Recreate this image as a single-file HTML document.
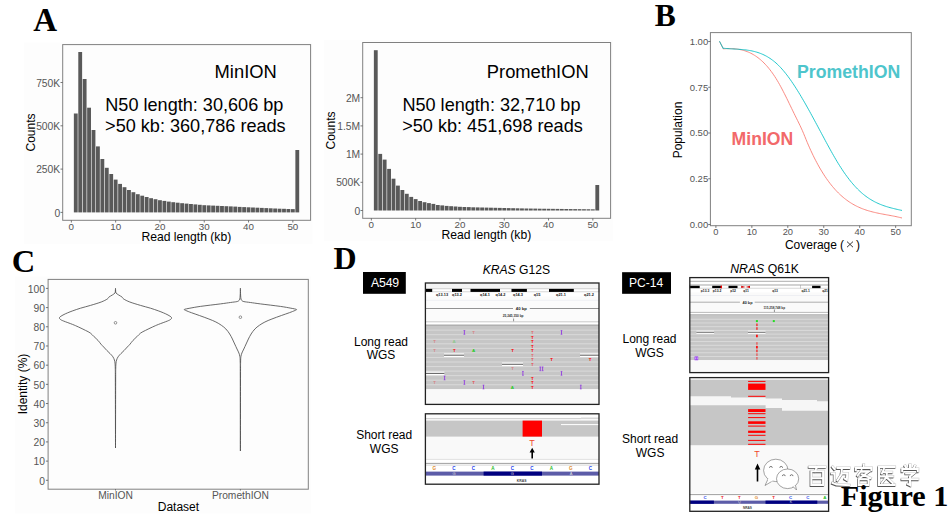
<!DOCTYPE html>
<html><head><meta charset="utf-8"><style>
html,body{margin:0;padding:0;background:#fff;width:951px;height:517px;overflow:hidden;}
svg{display:block;}
</style></head><body>
<svg width="951" height="517" viewBox="0 0 951 517">
<rect width="951" height="517" fill="#fff"/>
<rect x="24.00" y="42.40" width="288.40" height="201.50" fill="#fdfdfd" />
<rect x="324.00" y="40.00" width="288.70" height="201.00" fill="#fdfdfd" />
<rect x="14.70" y="276.60" width="296.30" height="237.00" fill="#fdfdfd" />
<text x="33.30" y="30.90" font-family='"Liberation Serif", serif' font-size="33" fill="#000" text-anchor="start" font-weight="bold" >A</text>
<text x="654.80" y="26.00" font-family='"Liberation Serif", serif' font-size="31.5" fill="#000" text-anchor="start" font-weight="bold" >B</text>
<text x="11.70" y="272.30" font-family='"Liberation Serif", serif' font-size="32.5" fill="#000" text-anchor="start" font-weight="bold" >C</text>
<text x="333.50" y="269.00" font-family='"Liberation Serif", serif' font-size="32" fill="#000" text-anchor="start" font-weight="bold" >D</text>
<rect x="73.86" y="113.50" width="3.83" height="98.90" fill="#595959" />
<rect x="78.29" y="52.00" width="3.83" height="160.40" fill="#595959" />
<rect x="82.72" y="79.00" width="3.83" height="133.40" fill="#595959" />
<rect x="87.15" y="107.70" width="3.83" height="104.70" fill="#595959" />
<rect x="91.58" y="130.00" width="3.83" height="82.40" fill="#595959" />
<rect x="96.01" y="146.40" width="3.83" height="66.00" fill="#595959" />
<rect x="100.44" y="159.00" width="3.83" height="53.40" fill="#595959" />
<rect x="104.87" y="167.80" width="3.83" height="44.60" fill="#595959" />
<rect x="109.30" y="174.00" width="3.83" height="38.40" fill="#595959" />
<rect x="113.73" y="179.60" width="3.83" height="32.80" fill="#595959" />
<rect x="118.16" y="183.90" width="3.83" height="28.50" fill="#595959" />
<rect x="122.59" y="187.20" width="3.83" height="25.20" fill="#595959" />
<rect x="127.02" y="190.00" width="3.83" height="22.40" fill="#595959" />
<rect x="131.46" y="192.20" width="3.83" height="20.20" fill="#595959" />
<rect x="135.88" y="194.20" width="3.83" height="18.20" fill="#595959" />
<rect x="140.31" y="195.70" width="3.83" height="16.70" fill="#595959" />
<rect x="144.75" y="197.00" width="3.83" height="15.40" fill="#595959" />
<rect x="149.17" y="198.20" width="3.83" height="14.20" fill="#595959" />
<rect x="153.60" y="199.20" width="3.83" height="13.20" fill="#595959" />
<rect x="158.03" y="200.20" width="3.83" height="12.20" fill="#595959" />
<rect x="162.47" y="200.90" width="3.83" height="11.50" fill="#595959" />
<rect x="166.90" y="201.60" width="3.83" height="10.80" fill="#595959" />
<rect x="171.32" y="202.20" width="3.83" height="10.20" fill="#595959" />
<rect x="175.75" y="202.70" width="3.83" height="9.70" fill="#595959" />
<rect x="180.19" y="203.20" width="3.83" height="9.20" fill="#595959" />
<rect x="184.61" y="203.60" width="3.83" height="8.80" fill="#595959" />
<rect x="189.04" y="204.00" width="3.83" height="8.40" fill="#595959" />
<rect x="193.47" y="204.40" width="3.83" height="8.00" fill="#595959" />
<rect x="197.91" y="204.80" width="3.83" height="7.60" fill="#595959" />
<rect x="202.33" y="205.20" width="3.83" height="7.20" fill="#595959" />
<rect x="206.76" y="205.40" width="3.83" height="7.00" fill="#595959" />
<rect x="211.19" y="205.60" width="3.83" height="6.80" fill="#595959" />
<rect x="215.62" y="205.80" width="3.83" height="6.60" fill="#595959" />
<rect x="220.06" y="206.00" width="3.83" height="6.40" fill="#595959" />
<rect x="224.48" y="206.20" width="3.83" height="6.20" fill="#595959" />
<rect x="228.91" y="206.40" width="3.83" height="6.00" fill="#595959" />
<rect x="233.34" y="206.60" width="3.83" height="5.80" fill="#595959" />
<rect x="237.77" y="206.90" width="3.83" height="5.50" fill="#595959" />
<rect x="242.20" y="207.10" width="3.83" height="5.30" fill="#595959" />
<rect x="246.63" y="207.30" width="3.83" height="5.10" fill="#595959" />
<rect x="251.06" y="207.50" width="3.83" height="4.90" fill="#595959" />
<rect x="255.49" y="207.70" width="3.83" height="4.70" fill="#595959" />
<rect x="259.93" y="207.90" width="3.83" height="4.50" fill="#595959" />
<rect x="264.36" y="208.10" width="3.83" height="4.30" fill="#595959" />
<rect x="268.79" y="208.30" width="3.83" height="4.10" fill="#595959" />
<rect x="273.22" y="208.50" width="3.83" height="3.90" fill="#595959" />
<rect x="277.64" y="208.70" width="3.83" height="3.70" fill="#595959" />
<rect x="282.08" y="208.80" width="3.83" height="3.60" fill="#595959" />
<rect x="286.50" y="209.00" width="3.83" height="3.40" fill="#595959" />
<rect x="290.94" y="209.10" width="3.83" height="3.30" fill="#595959" />
<rect x="295.37" y="150.00" width="3.83" height="62.40" fill="#595959" />
<rect x="62.70" y="44.60" width="247.90" height="175.70" fill="none" stroke="#808080" stroke-width="1"/>
<line x1="60.50" y1="212.40" x2="62.70" y2="212.40" stroke="#555" stroke-width="0.8" />
<text x="60.20" y="216.50" font-family='"Liberation Sans", sans-serif' font-size="10.3" fill="#555555" text-anchor="end" font-weight="normal" >0</text>
<line x1="60.50" y1="169.10" x2="62.70" y2="169.10" stroke="#555" stroke-width="0.8" />
<text x="60.20" y="173.20" font-family='"Liberation Sans", sans-serif' font-size="10.3" fill="#555555" text-anchor="end" font-weight="normal" >250K</text>
<line x1="60.50" y1="125.80" x2="62.70" y2="125.80" stroke="#555" stroke-width="0.8" />
<text x="60.20" y="129.90" font-family='"Liberation Sans", sans-serif' font-size="10.3" fill="#555555" text-anchor="end" font-weight="normal" >500K</text>
<line x1="60.50" y1="82.50" x2="62.70" y2="82.50" stroke="#555" stroke-width="0.8" />
<text x="60.20" y="86.60" font-family='"Liberation Sans", sans-serif' font-size="10.3" fill="#555555" text-anchor="end" font-weight="normal" >750K</text>
<line x1="71.35" y1="220.30" x2="71.35" y2="222.50" stroke="#555" stroke-width="0.8" />
<text x="71.35" y="229.70" font-family='"Liberation Sans", sans-serif' font-size="9.8" fill="#555555" text-anchor="middle" font-weight="normal" >0</text>
<line x1="115.65" y1="220.30" x2="115.65" y2="222.50" stroke="#555" stroke-width="0.8" />
<text x="115.65" y="229.70" font-family='"Liberation Sans", sans-serif' font-size="9.8" fill="#555555" text-anchor="middle" font-weight="normal" >10</text>
<line x1="159.95" y1="220.30" x2="159.95" y2="222.50" stroke="#555" stroke-width="0.8" />
<text x="159.95" y="229.70" font-family='"Liberation Sans", sans-serif' font-size="9.8" fill="#555555" text-anchor="middle" font-weight="normal" >20</text>
<line x1="204.25" y1="220.30" x2="204.25" y2="222.50" stroke="#555" stroke-width="0.8" />
<text x="204.25" y="229.70" font-family='"Liberation Sans", sans-serif' font-size="9.8" fill="#555555" text-anchor="middle" font-weight="normal" >30</text>
<line x1="248.55" y1="220.30" x2="248.55" y2="222.50" stroke="#555" stroke-width="0.8" />
<text x="248.55" y="229.70" font-family='"Liberation Sans", sans-serif' font-size="9.8" fill="#555555" text-anchor="middle" font-weight="normal" >40</text>
<line x1="292.85" y1="220.30" x2="292.85" y2="222.50" stroke="#555" stroke-width="0.8" />
<text x="292.85" y="229.70" font-family='"Liberation Sans", sans-serif' font-size="9.8" fill="#555555" text-anchor="middle" font-weight="normal" >50</text>
<text x="186.31" y="240.60" font-family='"Liberation Sans", sans-serif' font-size="12.15" fill="#000" text-anchor="middle" font-weight="normal" >Read length (kb)</text>
<text transform="translate(34.90,132.50) rotate(-90)" font-family='"Liberation Sans", sans-serif' font-size="12" text-anchor="middle">Counts</text>
<text x="214.60" y="77.80" font-family='"Liberation Sans", sans-serif' font-size="18.35" fill="#000" text-anchor="start" font-weight="normal" >MinION</text>
<text x="105.30" y="110.80" font-family='"Liberation Sans", sans-serif' font-size="18.1" fill="#000" text-anchor="start" font-weight="normal" >N50 length: 30,606 bp</text>
<text x="105.10" y="131.60" font-family='"Liberation Sans", sans-serif' font-size="18.1" fill="#000" text-anchor="start" font-weight="normal" >&gt;50 kb: 360,786 reads</text>
<rect x="373.87" y="50.20" width="3.83" height="160.30" fill="#595959" />
<rect x="378.30" y="153.90" width="3.83" height="56.60" fill="#595959" />
<rect x="382.73" y="159.60" width="3.83" height="50.90" fill="#595959" />
<rect x="387.16" y="168.90" width="3.83" height="41.60" fill="#595959" />
<rect x="391.59" y="178.70" width="3.83" height="31.80" fill="#595959" />
<rect x="396.02" y="185.60" width="3.83" height="24.90" fill="#595959" />
<rect x="400.45" y="190.00" width="3.83" height="20.50" fill="#595959" />
<rect x="404.88" y="193.80" width="3.83" height="16.70" fill="#595959" />
<rect x="409.31" y="196.90" width="3.83" height="13.60" fill="#595959" />
<rect x="413.74" y="199.10" width="3.83" height="11.40" fill="#595959" />
<rect x="418.17" y="201.00" width="3.83" height="9.50" fill="#595959" />
<rect x="422.60" y="202.20" width="3.83" height="8.30" fill="#595959" />
<rect x="427.03" y="203.10" width="3.83" height="7.40" fill="#595959" />
<rect x="431.46" y="203.90" width="3.83" height="6.60" fill="#595959" />
<rect x="435.89" y="205.00" width="3.83" height="5.50" fill="#595959" />
<rect x="440.32" y="205.40" width="3.83" height="5.10" fill="#595959" />
<rect x="444.75" y="205.90" width="3.83" height="4.60" fill="#595959" />
<rect x="449.18" y="206.20" width="3.83" height="4.30" fill="#595959" />
<rect x="453.61" y="206.50" width="3.83" height="4.00" fill="#595959" />
<rect x="458.04" y="206.80" width="3.83" height="3.70" fill="#595959" />
<rect x="462.47" y="207.00" width="3.83" height="3.50" fill="#595959" />
<rect x="466.90" y="207.10" width="3.83" height="3.40" fill="#595959" />
<rect x="471.33" y="207.30" width="3.83" height="3.20" fill="#595959" />
<rect x="475.76" y="207.40" width="3.83" height="3.10" fill="#595959" />
<rect x="480.19" y="207.50" width="3.83" height="3.00" fill="#595959" />
<rect x="484.62" y="207.60" width="3.83" height="2.90" fill="#595959" />
<rect x="489.05" y="207.70" width="3.83" height="2.80" fill="#595959" />
<rect x="493.48" y="207.80" width="3.83" height="2.70" fill="#595959" />
<rect x="497.91" y="207.90" width="3.83" height="2.60" fill="#595959" />
<rect x="502.34" y="208.00" width="3.83" height="2.50" fill="#595959" />
<rect x="506.77" y="208.10" width="3.83" height="2.40" fill="#595959" />
<rect x="511.20" y="208.20" width="3.83" height="2.30" fill="#595959" />
<rect x="515.62" y="208.30" width="3.83" height="2.20" fill="#595959" />
<rect x="520.05" y="208.40" width="3.83" height="2.10" fill="#595959" />
<rect x="524.48" y="208.50" width="3.83" height="2.00" fill="#595959" />
<rect x="528.91" y="208.55" width="3.83" height="1.95" fill="#595959" />
<rect x="533.34" y="208.60" width="3.83" height="1.90" fill="#595959" />
<rect x="537.77" y="208.70" width="3.83" height="1.80" fill="#595959" />
<rect x="542.20" y="208.75" width="3.83" height="1.75" fill="#595959" />
<rect x="546.63" y="208.80" width="3.83" height="1.70" fill="#595959" />
<rect x="551.06" y="208.85" width="3.83" height="1.65" fill="#595959" />
<rect x="555.50" y="208.90" width="3.83" height="1.60" fill="#595959" />
<rect x="559.92" y="208.95" width="3.83" height="1.55" fill="#595959" />
<rect x="564.35" y="209.00" width="3.83" height="1.50" fill="#595959" />
<rect x="568.78" y="209.05" width="3.83" height="1.45" fill="#595959" />
<rect x="573.21" y="209.10" width="3.83" height="1.40" fill="#595959" />
<rect x="577.64" y="209.15" width="3.83" height="1.35" fill="#595959" />
<rect x="582.07" y="209.20" width="3.83" height="1.30" fill="#595959" />
<rect x="586.50" y="209.25" width="3.83" height="1.25" fill="#595959" />
<rect x="590.93" y="209.30" width="3.83" height="1.20" fill="#595959" />
<rect x="595.36" y="185.00" width="3.83" height="25.50" fill="#595959" />
<rect x="362.70" y="42.50" width="247.90" height="175.80" fill="none" stroke="#808080" stroke-width="1"/>
<line x1="360.50" y1="210.50" x2="362.70" y2="210.50" stroke="#555" stroke-width="0.8" />
<text x="360.20" y="214.60" font-family='"Liberation Sans", sans-serif' font-size="10.3" fill="#555555" text-anchor="end" font-weight="normal" >0</text>
<line x1="360.50" y1="182.30" x2="362.70" y2="182.30" stroke="#555" stroke-width="0.8" />
<text x="360.20" y="186.40" font-family='"Liberation Sans", sans-serif' font-size="10.3" fill="#555555" text-anchor="end" font-weight="normal" >500K</text>
<line x1="360.50" y1="154.10" x2="362.70" y2="154.10" stroke="#555" stroke-width="0.8" />
<text x="360.20" y="158.20" font-family='"Liberation Sans", sans-serif' font-size="10.3" fill="#555555" text-anchor="end" font-weight="normal" >1M</text>
<line x1="360.50" y1="125.90" x2="362.70" y2="125.90" stroke="#555" stroke-width="0.8" />
<text x="360.20" y="130.00" font-family='"Liberation Sans", sans-serif' font-size="10.3" fill="#555555" text-anchor="end" font-weight="normal" >1.5M</text>
<line x1="360.50" y1="97.70" x2="362.70" y2="97.70" stroke="#555" stroke-width="0.8" />
<text x="360.20" y="101.80" font-family='"Liberation Sans", sans-serif' font-size="10.3" fill="#555555" text-anchor="end" font-weight="normal" >2M</text>
<line x1="371.35" y1="218.30" x2="371.35" y2="220.50" stroke="#555" stroke-width="0.8" />
<text x="371.35" y="227.70" font-family='"Liberation Sans", sans-serif' font-size="9.8" fill="#555555" text-anchor="middle" font-weight="normal" >0</text>
<line x1="415.65" y1="218.30" x2="415.65" y2="220.50" stroke="#555" stroke-width="0.8" />
<text x="415.65" y="227.70" font-family='"Liberation Sans", sans-serif' font-size="9.8" fill="#555555" text-anchor="middle" font-weight="normal" >10</text>
<line x1="459.95" y1="218.30" x2="459.95" y2="220.50" stroke="#555" stroke-width="0.8" />
<text x="459.95" y="227.70" font-family='"Liberation Sans", sans-serif' font-size="9.8" fill="#555555" text-anchor="middle" font-weight="normal" >20</text>
<line x1="504.25" y1="218.30" x2="504.25" y2="220.50" stroke="#555" stroke-width="0.8" />
<text x="504.25" y="227.70" font-family='"Liberation Sans", sans-serif' font-size="9.8" fill="#555555" text-anchor="middle" font-weight="normal" >30</text>
<line x1="548.55" y1="218.30" x2="548.55" y2="220.50" stroke="#555" stroke-width="0.8" />
<text x="548.55" y="227.70" font-family='"Liberation Sans", sans-serif' font-size="9.8" fill="#555555" text-anchor="middle" font-weight="normal" >40</text>
<line x1="592.85" y1="218.30" x2="592.85" y2="220.50" stroke="#555" stroke-width="0.8" />
<text x="592.85" y="227.70" font-family='"Liberation Sans", sans-serif' font-size="9.8" fill="#555555" text-anchor="middle" font-weight="normal" >50</text>
<text x="486.31" y="238.60" font-family='"Liberation Sans", sans-serif' font-size="12.15" fill="#000" text-anchor="middle" font-weight="normal" >Read length (kb)</text>
<text transform="translate(334.90,130.50) rotate(-90)" font-family='"Liberation Sans", sans-serif' font-size="12" text-anchor="middle">Counts</text>
<text x="486.80" y="77.80" font-family='"Liberation Sans", sans-serif' font-size="18.35" fill="#000" text-anchor="start" font-weight="normal" >PromethION</text>
<text x="402.40" y="110.80" font-family='"Liberation Sans", sans-serif' font-size="18.1" fill="#000" text-anchor="start" font-weight="normal" >N50 length: 32,710 bp</text>
<text x="402.20" y="131.60" font-family='"Liberation Sans", sans-serif' font-size="18.1" fill="#000" text-anchor="start" font-weight="normal" >&gt;50 kb: 451,698 reads</text>
<rect x="710.4" y="32.6" width="200.90" height="193.10" fill="none" stroke="#808080" stroke-width="1"/>
<line x1="708.20" y1="224.50" x2="710.40" y2="224.50" stroke="#555" stroke-width="0.8" />
<text x="708.20" y="227.90" font-family='"Liberation Sans", sans-serif' font-size="9.5" fill="#555555" text-anchor="end" font-weight="normal" >0.00</text>
<line x1="708.20" y1="178.75" x2="710.40" y2="178.75" stroke="#555" stroke-width="0.8" />
<text x="708.20" y="182.15" font-family='"Liberation Sans", sans-serif' font-size="9.5" fill="#555555" text-anchor="end" font-weight="normal" >0.25</text>
<line x1="708.20" y1="133.00" x2="710.40" y2="133.00" stroke="#555" stroke-width="0.8" />
<text x="708.20" y="136.40" font-family='"Liberation Sans", sans-serif' font-size="9.5" fill="#555555" text-anchor="end" font-weight="normal" >0.50</text>
<line x1="708.20" y1="87.25" x2="710.40" y2="87.25" stroke="#555" stroke-width="0.8" />
<text x="708.20" y="90.65" font-family='"Liberation Sans", sans-serif' font-size="9.5" fill="#555555" text-anchor="end" font-weight="normal" >0.75</text>
<line x1="708.20" y1="41.50" x2="710.40" y2="41.50" stroke="#555" stroke-width="0.8" />
<text x="708.20" y="44.90" font-family='"Liberation Sans", sans-serif' font-size="9.5" fill="#555555" text-anchor="end" font-weight="normal" >1.00</text>
<line x1="715.90" y1="225.70" x2="715.90" y2="227.90" stroke="#555" stroke-width="0.8" />
<text x="715.90" y="234.60" font-family='"Liberation Sans", sans-serif' font-size="9.3" fill="#555555" text-anchor="middle" font-weight="normal" >0</text>
<line x1="751.85" y1="225.70" x2="751.85" y2="227.90" stroke="#555" stroke-width="0.8" />
<text x="751.85" y="234.60" font-family='"Liberation Sans", sans-serif' font-size="9.3" fill="#555555" text-anchor="middle" font-weight="normal" >10</text>
<line x1="787.80" y1="225.70" x2="787.80" y2="227.90" stroke="#555" stroke-width="0.8" />
<text x="787.80" y="234.60" font-family='"Liberation Sans", sans-serif' font-size="9.3" fill="#555555" text-anchor="middle" font-weight="normal" >20</text>
<line x1="823.75" y1="225.70" x2="823.75" y2="227.90" stroke="#555" stroke-width="0.8" />
<text x="823.75" y="234.60" font-family='"Liberation Sans", sans-serif' font-size="9.3" fill="#555555" text-anchor="middle" font-weight="normal" >30</text>
<line x1="859.70" y1="225.70" x2="859.70" y2="227.90" stroke="#555" stroke-width="0.8" />
<text x="859.70" y="234.60" font-family='"Liberation Sans", sans-serif' font-size="9.3" fill="#555555" text-anchor="middle" font-weight="normal" >40</text>
<line x1="895.65" y1="225.70" x2="895.65" y2="227.90" stroke="#555" stroke-width="0.8" />
<text x="895.65" y="234.60" font-family='"Liberation Sans", sans-serif' font-size="9.3" fill="#555555" text-anchor="middle" font-weight="normal" >50</text>
<text x="784.90" y="248.90" font-family='"Liberation Sans", sans-serif' font-size="12" fill="#000" text-anchor="start" font-weight="normal" >Coverage</text>
<text x="840.00" y="248.90" font-family='"Liberation Sans", sans-serif' font-size="12" fill="#000" text-anchor="start" font-weight="normal" >(</text>
<text x="855.90" y="248.90" font-family='"Liberation Sans", sans-serif' font-size="12" fill="#000" text-anchor="start" font-weight="normal" >)</text>
<line x1="847.00" y1="241.60" x2="853.00" y2="247.20" stroke="#222" stroke-width="0.9" />
<line x1="853.00" y1="241.60" x2="847.00" y2="247.20" stroke="#222" stroke-width="0.9" />
<text transform="translate(682.3,130) rotate(-90)" font-family='"Liberation Sans", sans-serif' font-size="12" text-anchor="middle">Population</text>
<path d="M719.5,41.3 L723.2,48.5 L723.20,48.87 L724.40,48.79 L725.60,48.72 L726.80,48.67 L728.00,48.64 L729.20,48.62 L730.40,48.63 L731.60,48.65 L732.80,48.70 L734.00,48.78 L735.20,48.88 L736.40,49.00 L737.60,49.16 L738.80,49.35 L740.00,49.57 L741.20,49.82 L742.40,50.11 L743.60,50.43 L744.80,50.79 L746.00,51.19 L747.20,51.64 L748.40,52.12 L749.60,52.65 L750.80,53.22 L752.00,53.85 L753.20,54.52 L754.40,55.24 L755.60,56.01 L756.80,56.83 L758.00,57.71 L759.20,58.65 L760.40,59.64 L761.60,60.69 L762.80,61.80 L764.00,62.98 L765.20,64.22 L766.40,65.52 L767.60,66.89 L768.80,68.33 L770.00,69.83 L771.20,71.41 L772.40,73.06 L773.60,74.79 L774.80,76.59 L776.00,78.46 L777.20,80.42 L778.40,82.45 L779.60,84.57 L780.80,86.75 L782.00,89.00 L783.20,91.30 L784.40,93.65 L785.60,96.04 L786.80,98.47 L788.00,100.92 L789.20,103.39 L790.40,105.87 L791.60,108.35 L792.80,110.83 L794.00,113.30 L795.20,115.75 L796.40,118.17 L797.60,120.58 L798.80,123.01 L800.00,125.49 L801.20,128.04 L802.40,130.70 L803.60,133.50 L804.80,136.43 L806.00,139.40 L807.20,142.30 L808.40,145.12 L809.60,147.84 L810.80,150.49 L812.00,153.06 L813.20,155.56 L814.40,157.99 L815.60,160.34 L816.80,162.62 L818.00,164.83 L819.20,166.98 L820.40,169.05 L821.60,171.06 L822.80,173.01 L824.00,174.89 L825.20,176.71 L826.40,178.47 L827.60,180.17 L828.80,181.81 L830.00,183.40 L831.20,184.92 L832.40,186.39 L833.60,187.81 L834.80,189.18 L836.00,190.49 L837.20,191.75 L838.40,192.97 L839.60,194.13 L840.80,195.25 L842.00,196.32 L843.20,197.35 L844.40,198.34 L845.60,199.28 L846.80,200.18 L848.00,201.04 L849.20,201.87 L850.40,202.65 L851.60,203.40 L852.80,204.12 L854.00,204.80 L855.20,205.45 L856.40,206.07 L857.60,206.65 L858.80,207.21 L860.00,207.74 L861.20,208.25 L862.40,208.72 L863.60,209.18 L864.80,209.61 L866.00,210.02 L867.20,210.41 L868.40,210.77 L869.60,211.12 L870.80,211.46 L872.00,211.78 L873.20,212.08 L874.40,212.37 L875.60,212.64 L876.80,212.91 L878.00,213.16 L879.20,213.41 L880.40,213.65 L881.60,213.88 L882.80,214.11 L884.00,214.33 L885.20,214.55 L886.40,214.77 L887.60,214.99 L888.80,215.21 L890.00,215.43 L891.20,215.65 L892.40,215.88 L893.60,216.11 L894.80,216.35 L896.00,216.60 L897.20,216.86 L898.40,217.13 L899.60,217.41 L900.80,217.70 L902.00,218.00" fill="none" stroke="#F8766D" stroke-width="0.85" stroke-linejoin="round"/>
<path d="M719.5,41.3 L723.2,48.5 L723.20,48.20 L724.40,48.33 L725.60,48.44 L726.80,48.54 L728.00,48.63 L729.20,48.71 L730.40,48.79 L731.60,48.86 L732.80,48.93 L734.00,49.00 L735.20,49.07 L736.40,49.14 L737.60,49.21 L738.80,49.29 L740.00,49.38 L741.20,49.47 L742.40,49.58 L743.60,49.69 L744.80,49.82 L746.00,49.96 L747.20,50.12 L748.40,50.30 L749.60,50.49 L750.80,50.71 L752.00,50.95 L753.20,51.22 L754.40,51.51 L755.60,51.83 L756.80,52.17 L758.00,52.55 L759.20,52.96 L760.40,53.41 L761.60,53.89 L762.80,54.41 L764.00,54.96 L765.20,55.56 L766.40,56.20 L767.60,56.88 L768.80,57.61 L770.00,58.38 L771.20,59.21 L772.40,60.08 L773.60,61.00 L774.80,61.98 L776.00,63.01 L777.20,64.10 L778.40,65.25 L779.60,66.46 L780.80,67.72 L782.00,69.05 L783.20,70.43 L784.40,71.86 L785.60,73.35 L786.80,74.89 L788.00,76.47 L789.20,78.10 L790.40,79.78 L791.60,81.51 L792.80,83.27 L794.00,85.07 L795.20,86.92 L796.40,88.79 L797.60,90.71 L798.80,92.66 L800.00,94.64 L801.20,96.64 L802.40,98.68 L803.60,100.74 L804.80,102.83 L806.00,104.94 L807.20,107.07 L808.40,109.22 L809.60,111.39 L810.80,113.57 L812.00,115.77 L813.20,117.98 L814.40,120.20 L815.60,122.43 L816.80,124.66 L818.00,126.90 L819.20,129.15 L820.40,131.39 L821.60,133.64 L822.80,135.88 L824.00,138.12 L825.20,140.36 L826.40,142.59 L827.60,144.80 L828.80,147.00 L830.00,149.18 L831.20,151.35 L832.40,153.48 L833.60,155.60 L834.80,157.68 L836.00,159.73 L837.20,161.74 L838.40,163.71 L839.60,165.64 L840.80,167.53 L842.00,169.37 L843.20,171.17 L844.40,172.92 L845.60,174.62 L846.80,176.28 L848.00,177.89 L849.20,179.45 L850.40,180.97 L851.60,182.44 L852.80,183.86 L854.00,185.23 L855.20,186.56 L856.40,187.84 L857.60,189.07 L858.80,190.26 L860.00,191.39 L861.20,192.48 L862.40,193.52 L863.60,194.51 L864.80,195.46 L866.00,196.37 L867.20,197.23 L868.40,198.06 L869.60,198.84 L870.80,199.59 L872.00,200.31 L873.20,200.98 L874.40,201.63 L875.60,202.24 L876.80,202.82 L878.00,203.38 L879.20,203.90 L880.40,204.40 L881.60,204.87 L882.80,205.33 L884.00,205.75 L885.20,206.16 L886.40,206.55 L887.60,206.92 L888.80,207.27 L890.00,207.61 L891.20,207.93 L892.40,208.24 L893.60,208.54 L894.80,208.84 L896.00,209.12 L897.20,209.39 L898.40,209.66 L899.60,209.93 L900.80,210.19 L902.00,210.45" fill="none" stroke="#00BFC4" stroke-width="0.85" stroke-linejoin="round"/>
<text x="797.00" y="77.80" font-family='"Liberation Sans", sans-serif' font-size="17.7" fill="#4EC5CC" text-anchor="start" font-weight="bold" >PromethION</text>
<text x="731.60" y="144.90" font-family='"Liberation Sans", sans-serif' font-size="17.6" fill="#F2696A" text-anchor="start" font-weight="bold" >MinION</text>
<rect x="48.1" y="279.4" width="260.20" height="209.80" fill="none" stroke="#808080" stroke-width="1"/>
<line x1="45.90" y1="480.30" x2="48.10" y2="480.30" stroke="#555" stroke-width="0.8" />
<text x="44.90" y="484.50" font-family='"Liberation Sans", sans-serif' font-size="10.3" fill="#555555" text-anchor="end" font-weight="normal" >0</text>
<line x1="45.90" y1="461.11" x2="48.10" y2="461.11" stroke="#555" stroke-width="0.8" />
<text x="44.90" y="465.31" font-family='"Liberation Sans", sans-serif' font-size="10.3" fill="#555555" text-anchor="end" font-weight="normal" >10</text>
<line x1="45.90" y1="441.92" x2="48.10" y2="441.92" stroke="#555" stroke-width="0.8" />
<text x="44.90" y="446.12" font-family='"Liberation Sans", sans-serif' font-size="10.3" fill="#555555" text-anchor="end" font-weight="normal" >20</text>
<line x1="45.90" y1="422.73" x2="48.10" y2="422.73" stroke="#555" stroke-width="0.8" />
<text x="44.90" y="426.93" font-family='"Liberation Sans", sans-serif' font-size="10.3" fill="#555555" text-anchor="end" font-weight="normal" >30</text>
<line x1="45.90" y1="403.54" x2="48.10" y2="403.54" stroke="#555" stroke-width="0.8" />
<text x="44.90" y="407.74" font-family='"Liberation Sans", sans-serif' font-size="10.3" fill="#555555" text-anchor="end" font-weight="normal" >40</text>
<line x1="45.90" y1="384.35" x2="48.10" y2="384.35" stroke="#555" stroke-width="0.8" />
<text x="44.90" y="388.55" font-family='"Liberation Sans", sans-serif' font-size="10.3" fill="#555555" text-anchor="end" font-weight="normal" >50</text>
<line x1="45.90" y1="365.16" x2="48.10" y2="365.16" stroke="#555" stroke-width="0.8" />
<text x="44.90" y="369.36" font-family='"Liberation Sans", sans-serif' font-size="10.3" fill="#555555" text-anchor="end" font-weight="normal" >60</text>
<line x1="45.90" y1="345.97" x2="48.10" y2="345.97" stroke="#555" stroke-width="0.8" />
<text x="44.90" y="350.17" font-family='"Liberation Sans", sans-serif' font-size="10.3" fill="#555555" text-anchor="end" font-weight="normal" >70</text>
<line x1="45.90" y1="326.78" x2="48.10" y2="326.78" stroke="#555" stroke-width="0.8" />
<text x="44.90" y="330.98" font-family='"Liberation Sans", sans-serif' font-size="10.3" fill="#555555" text-anchor="end" font-weight="normal" >80</text>
<line x1="45.90" y1="307.59" x2="48.10" y2="307.59" stroke="#555" stroke-width="0.8" />
<text x="44.90" y="311.79" font-family='"Liberation Sans", sans-serif' font-size="10.3" fill="#555555" text-anchor="end" font-weight="normal" >90</text>
<line x1="45.90" y1="288.40" x2="48.10" y2="288.40" stroke="#555" stroke-width="0.8" />
<text x="44.90" y="292.60" font-family='"Liberation Sans", sans-serif' font-size="10.3" fill="#555555" text-anchor="end" font-weight="normal" >100</text>
<line x1="115.50" y1="489.20" x2="115.50" y2="490.50" stroke="#555" stroke-width="0.8" />
<text x="115.50" y="499.20" font-family='"Liberation Sans", sans-serif' font-size="10.25" fill="#555555" text-anchor="middle" font-weight="normal" >MinION</text>
<line x1="240.40" y1="489.20" x2="240.40" y2="490.50" stroke="#555" stroke-width="0.8" />
<text x="240.40" y="499.20" font-family='"Liberation Sans", sans-serif' font-size="10.25" fill="#555555" text-anchor="middle" font-weight="normal" >PromethION</text>
<text x="178.40" y="510.60" font-family='"Liberation Sans", sans-serif' font-size="12" fill="#000" text-anchor="middle" font-weight="normal" >Dataset</text>
<text transform="translate(27,384) rotate(-90)" font-family='"Liberation Sans", sans-serif' font-size="12" text-anchor="middle">Identity (%)</text>
<path d="M115.50,288.40 C115.47,288.83 115.43,290.23 115.35,291.00 C115.27,291.77 115.51,292.33 115.00,293.00 C114.49,293.67 113.32,294.32 112.30,295.00 C111.28,295.68 109.73,296.43 108.90,297.10 C108.07,297.77 108.58,298.18 107.30,299.00 C106.02,299.82 104.00,300.93 101.20,302.00 C98.40,303.07 93.95,304.37 90.50,305.40 C87.05,306.43 83.45,307.30 80.50,308.20 C77.55,309.10 74.93,310.03 72.80,310.80 C70.67,311.57 69.33,312.10 67.70,312.80 C66.07,313.50 64.37,314.22 63.00,315.00 C61.63,315.78 59.92,316.75 59.50,317.50 C59.08,318.25 59.83,318.92 60.50,319.50 C61.17,320.08 61.50,320.18 63.50,321.00 C65.50,321.82 70.00,323.40 72.50,324.40 C75.00,325.40 76.33,326.00 78.50,327.00 C80.67,328.00 83.53,329.40 85.50,330.40 C87.47,331.40 88.87,331.95 90.30,333.00 C91.73,334.05 92.82,335.47 94.10,336.70 C95.38,337.93 96.85,339.15 98.00,340.40 C99.15,341.65 100.05,343.10 101.00,344.20 C101.95,345.30 102.72,345.95 103.70,347.00 C104.68,348.05 105.85,349.42 106.90,350.50 C107.95,351.58 109.00,352.45 110.00,353.50 C111.00,354.55 112.17,355.72 112.90,356.80 C113.63,357.88 114.05,358.97 114.40,360.00 C114.75,361.03 114.86,361.67 115.00,363.00 C115.14,364.33 115.19,365.17 115.25,368.00 C115.31,370.83 115.31,366.67 115.35,380.00 C115.39,393.33 115.47,436.67 115.50,448.00 L115.50,448.00 C115.53,436.67 115.61,393.33 115.65,380.00 C115.69,366.67 115.69,370.83 115.75,368.00 C115.81,365.17 115.86,364.33 116.00,363.00 C116.14,361.67 116.25,361.03 116.60,360.00 C116.95,358.97 117.37,357.88 118.10,356.80 C118.83,355.72 120.00,354.55 121.00,353.50 C122.00,352.45 123.05,351.58 124.10,350.50 C125.15,349.42 126.32,348.05 127.30,347.00 C128.28,345.95 129.05,345.30 130.00,344.20 C130.95,343.10 131.85,341.65 133.00,340.40 C134.15,339.15 135.62,337.93 136.90,336.70 C138.18,335.47 139.27,334.05 140.70,333.00 C142.13,331.95 143.53,331.40 145.50,330.40 C147.47,329.40 150.33,328.00 152.50,327.00 C154.67,326.00 156.00,325.40 158.50,324.40 C161.00,323.40 165.50,321.82 167.50,321.00 C169.50,320.18 169.83,320.08 170.50,319.50 C171.17,318.92 171.92,318.25 171.50,317.50 C171.08,316.75 169.37,315.78 168.00,315.00 C166.63,314.22 164.93,313.50 163.30,312.80 C161.67,312.10 160.33,311.57 158.20,310.80 C156.07,310.03 153.45,309.10 150.50,308.20 C147.55,307.30 143.95,306.43 140.50,305.40 C137.05,304.37 132.60,303.07 129.80,302.00 C127.00,300.93 124.98,299.82 123.70,299.00 C122.42,298.18 122.93,297.77 122.10,297.10 C121.27,296.43 119.72,295.68 118.70,295.00 C117.68,294.32 116.51,293.67 116.00,293.00 C115.49,292.33 115.73,291.77 115.65,291.00 C115.57,290.23 115.53,288.83 115.50,288.40 Z" fill="none" stroke="#505050" stroke-width="0.85" stroke-linejoin="round"/>
<path d="M240.40,288.30 C240.37,289.42 240.30,293.22 240.20,295.00 C240.10,296.78 240.02,298.07 239.80,299.00 C239.58,299.93 239.38,300.17 238.90,300.60 C238.42,301.03 238.32,301.28 236.90,301.60 C235.48,301.92 233.15,302.12 230.40,302.50 C227.65,302.88 225.40,303.25 220.40,303.90 C215.40,304.55 205.48,305.68 200.40,306.40 C195.32,307.12 192.57,307.70 189.90,308.20 C187.23,308.70 185.07,309.02 184.40,309.40 C183.73,309.78 184.73,309.95 185.90,310.50 C187.07,311.05 189.15,311.87 191.40,312.70 C193.65,313.53 196.48,314.45 199.40,315.50 C202.32,316.55 206.15,317.92 208.90,319.00 C211.65,320.08 213.82,320.95 215.90,322.00 C217.98,323.05 219.73,324.13 221.40,325.30 C223.07,326.47 224.52,327.55 225.90,329.00 C227.28,330.45 228.62,332.33 229.70,334.00 C230.78,335.67 231.57,337.33 232.40,339.00 C233.23,340.67 233.93,342.33 234.70,344.00 C235.47,345.67 236.30,347.50 237.00,349.00 C237.70,350.50 238.42,351.72 238.90,353.00 C239.38,354.28 239.68,355.20 239.90,356.70 C240.12,358.20 240.14,358.95 240.20,362.00 C240.26,365.05 240.25,360.17 240.28,375.00 C240.31,389.83 240.38,438.33 240.40,451.00 L240.40,451.00 C240.42,438.33 240.49,389.83 240.52,375.00 C240.55,360.17 240.54,365.05 240.60,362.00 C240.66,358.95 240.68,358.20 240.90,356.70 C241.12,355.20 241.42,354.28 241.90,353.00 C242.38,351.72 243.10,350.50 243.80,349.00 C244.50,347.50 245.33,345.67 246.10,344.00 C246.87,342.33 247.57,340.67 248.40,339.00 C249.23,337.33 250.02,335.67 251.10,334.00 C252.18,332.33 253.52,330.45 254.90,329.00 C256.28,327.55 257.73,326.47 259.40,325.30 C261.07,324.13 262.82,323.05 264.90,322.00 C266.98,320.95 269.15,320.08 271.90,319.00 C274.65,317.92 278.48,316.55 281.40,315.50 C284.32,314.45 287.15,313.53 289.40,312.70 C291.65,311.87 293.73,311.05 294.90,310.50 C296.07,309.95 297.07,309.78 296.40,309.40 C295.73,309.02 293.57,308.70 290.90,308.20 C288.23,307.70 285.48,307.12 280.40,306.40 C275.32,305.68 265.40,304.55 260.40,303.90 C255.40,303.25 253.15,302.88 250.40,302.50 C247.65,302.12 245.32,301.92 243.90,301.60 C242.48,301.28 242.38,301.03 241.90,300.60 C241.42,300.17 241.22,299.93 241.00,299.00 C240.78,298.07 240.70,296.78 240.60,295.00 C240.50,293.22 240.43,289.42 240.40,288.30 Z" fill="none" stroke="#505050" stroke-width="0.85" stroke-linejoin="round"/>
<circle cx="115.5" cy="322.8" r="1.3" fill="none" stroke="#666" stroke-width="0.7"/>
<circle cx="240.4" cy="317.2" r="1.3" fill="none" stroke="#666" stroke-width="0.7"/>
<rect x="363.00" y="272.00" width="42.80" height="21.80" fill="#000" />
<text x="385.00" y="286.90" font-family='"Liberation Sans", sans-serif' font-size="12.3" fill="#fff" text-anchor="middle" font-weight="normal" letter-spacing="-0.15">A549</text>
<rect x="622.10" y="272.20" width="48.90" height="21.60" fill="#000" />
<text x="646.10" y="286.90" font-family='"Liberation Sans", sans-serif' font-size="12.1" fill="#fff" text-anchor="middle" font-weight="normal" >PC-14</text>
<text x="516.4" y="273.8" font-family='"Liberation Sans", sans-serif' font-size="12.15" text-anchor="middle"><tspan font-style="italic">KRAS</tspan> G12S</text>
<text x="764.6" y="272.9" font-family='"Liberation Sans", sans-serif' font-size="12.25" text-anchor="middle"><tspan font-style="italic">NRAS</tspan> Q61K</text>
<text x="381.00" y="345.60" font-family='"Liberation Sans", sans-serif' font-size="12" fill="#000" text-anchor="middle" font-weight="normal" >Long read</text>
<text x="381.00" y="358.60" font-family='"Liberation Sans", sans-serif' font-size="12" fill="#000" text-anchor="middle" font-weight="normal" >WGS</text>
<text x="384.20" y="439.00" font-family='"Liberation Sans", sans-serif' font-size="12" fill="#000" text-anchor="middle" font-weight="normal" >Short read</text>
<text x="384.20" y="452.70" font-family='"Liberation Sans", sans-serif' font-size="12" fill="#000" text-anchor="middle" font-weight="normal" >WGS</text>
<text x="649.50" y="343.30" font-family='"Liberation Sans", sans-serif' font-size="12" fill="#000" text-anchor="middle" font-weight="normal" >Long read</text>
<text x="649.50" y="356.60" font-family='"Liberation Sans", sans-serif' font-size="12" fill="#000" text-anchor="middle" font-weight="normal" >WGS</text>
<text x="650.10" y="443.40" font-family='"Liberation Sans", sans-serif' font-size="12" fill="#000" text-anchor="middle" font-weight="normal" >Short read</text>
<text x="650.10" y="456.70" font-family='"Liberation Sans", sans-serif' font-size="12" fill="#000" text-anchor="middle" font-weight="normal" >WGS</text>
<rect x="425.40" y="283.00" width="173.60" height="121.40" fill="#fff" />
<rect x="425.40" y="284.00" width="173.60" height="5.00" fill="#f4f4f4" />
<rect x="425.40" y="288.90" width="173.60" height="3.00" fill="#fff" stroke="#999" stroke-width="0.4"/>
<rect x="425.40" y="288.90" width="6.80" height="3.00" fill="#000" />
<rect x="452.00" y="288.90" width="10.00" height="3.00" fill="#000" />
<rect x="470.50" y="288.90" width="29.50" height="3.00" fill="#000" />
<rect x="511.50" y="288.90" width="15.40" height="3.00" fill="#000" />
<rect x="549.00" y="288.90" width="24.80" height="3.00" fill="#000" />
<text x="442.00" y="296.00" font-family='"Liberation Sans", sans-serif' font-size="3.9" fill="#111" text-anchor="middle" font-weight="bold" >q13.13</text>
<text x="457.00" y="296.00" font-family='"Liberation Sans", sans-serif' font-size="3.9" fill="#111" text-anchor="middle" font-weight="bold" >q13.2</text>
<text x="485.00" y="296.00" font-family='"Liberation Sans", sans-serif' font-size="3.9" fill="#111" text-anchor="middle" font-weight="bold" >q14.1</text>
<text x="500.50" y="296.00" font-family='"Liberation Sans", sans-serif' font-size="3.9" fill="#111" text-anchor="middle" font-weight="bold" >q14.2</text>
<text x="518.00" y="296.00" font-family='"Liberation Sans", sans-serif' font-size="3.9" fill="#111" text-anchor="middle" font-weight="bold" >q14.3</text>
<text x="537.00" y="296.00" font-family='"Liberation Sans", sans-serif' font-size="3.9" fill="#111" text-anchor="middle" font-weight="bold" >q15</text>
<text x="561.00" y="296.00" font-family='"Liberation Sans", sans-serif' font-size="3.9" fill="#111" text-anchor="middle" font-weight="bold" >q21.1</text>
<text x="589.00" y="296.00" font-family='"Liberation Sans", sans-serif' font-size="3.9" fill="#111" text-anchor="middle" font-weight="bold" >q21.2</text>
<rect x="425.40" y="296.50" width="173.60" height="25.00" fill="#fbfbfb" />
<line x1="425.40" y1="300.30" x2="599.00" y2="300.30" stroke="#e6e8ee" stroke-width="0.6" />
<line x1="425.40" y1="308.50" x2="513.00" y2="308.50" stroke="#777" stroke-width="0.8" />
<line x1="529.80" y1="308.50" x2="599.00" y2="308.50" stroke="#777" stroke-width="0.8" />
<text x="521.30" y="310.00" font-family='"Liberation Sans", sans-serif' font-size="4.2" fill="#222" text-anchor="middle" font-weight="bold" >40 bp</text>
<text x="513.20" y="317.00" font-family='"Liberation Sans", sans-serif' font-size="3.2" fill="#333" text-anchor="middle" font-weight="bold" >25,245,350 bp</text>
<line x1="513.60" y1="318.50" x2="513.60" y2="321.50" stroke="#444" stroke-width="0.6" />
<line x1="425.40" y1="321.80" x2="599.00" y2="321.80" stroke="#bbb" stroke-width="0.8" />
<line x1="425.40" y1="325.20" x2="599.00" y2="325.20" stroke="#777" stroke-width="1" />
<rect x="425.40" y="325.60" width="173.60" height="63.70" fill="#c6c6c6" />
<line x1="425.40" y1="330.15" x2="599.00" y2="330.15" stroke="#e2e2e2" stroke-width="0.7" />
<line x1="425.40" y1="334.70" x2="599.00" y2="334.70" stroke="#e2e2e2" stroke-width="0.7" />
<line x1="425.40" y1="339.25" x2="599.00" y2="339.25" stroke="#e2e2e2" stroke-width="0.7" />
<line x1="425.40" y1="343.80" x2="599.00" y2="343.80" stroke="#e2e2e2" stroke-width="0.7" />
<line x1="425.40" y1="348.35" x2="599.00" y2="348.35" stroke="#e2e2e2" stroke-width="0.7" />
<line x1="425.40" y1="352.90" x2="599.00" y2="352.90" stroke="#e2e2e2" stroke-width="0.7" />
<line x1="425.40" y1="357.45" x2="599.00" y2="357.45" stroke="#e2e2e2" stroke-width="0.7" />
<line x1="425.40" y1="362.00" x2="599.00" y2="362.00" stroke="#e2e2e2" stroke-width="0.7" />
<line x1="425.40" y1="366.55" x2="599.00" y2="366.55" stroke="#e2e2e2" stroke-width="0.7" />
<line x1="425.40" y1="371.10" x2="599.00" y2="371.10" stroke="#e2e2e2" stroke-width="0.7" />
<line x1="425.40" y1="375.65" x2="599.00" y2="375.65" stroke="#e2e2e2" stroke-width="0.7" />
<line x1="425.40" y1="380.20" x2="599.00" y2="380.20" stroke="#e2e2e2" stroke-width="0.7" />
<line x1="425.40" y1="384.75" x2="599.00" y2="384.75" stroke="#e2e2e2" stroke-width="0.7" />
<rect x="425.40" y="389.30" width="173.60" height="15.10" fill="#f9f9f9" />
<line x1="464.40" y1="330.53" x2="464.40" y2="334.32" stroke="#8a2be2" stroke-width="0.8" />
<line x1="463.50" y1="330.53" x2="465.30" y2="330.53" stroke="#8a2be2" stroke-width="0.6" />
<line x1="463.50" y1="334.32" x2="465.30" y2="334.32" stroke="#8a2be2" stroke-width="0.6" />
<text x="473.50" y="334.03" font-family='"Liberation Sans", sans-serif' font-size="4.4" fill="#ff0000" text-anchor="middle" font-weight="bold" opacity="0.35">T</text>
<text x="532.40" y="334.03" font-family='"Liberation Sans", sans-serif' font-size="4.4" fill="#ff0000" text-anchor="middle" font-weight="bold" opacity="0.5">T</text>
<line x1="561.50" y1="330.53" x2="561.50" y2="334.32" stroke="#8a2be2" stroke-width="0.8" />
<line x1="560.60" y1="330.53" x2="562.40" y2="330.53" stroke="#8a2be2" stroke-width="0.6" />
<line x1="560.60" y1="334.32" x2="562.40" y2="334.32" stroke="#8a2be2" stroke-width="0.6" />
<text x="532.40" y="338.58" font-family='"Liberation Sans", sans-serif' font-size="4.4" fill="#ff0000" text-anchor="middle" font-weight="bold" opacity="1.0">T</text>
<text x="434.60" y="343.13" font-family='"Liberation Sans", sans-serif' font-size="4.4" fill="#ff0000" text-anchor="middle" font-weight="bold" opacity="0.35">T</text>
<text x="454.00" y="343.13" font-family='"Liberation Sans", sans-serif' font-size="4.4" fill="#22cc22" text-anchor="middle" font-weight="bold" opacity="0.35">A</text>
<text x="532.40" y="343.13" font-family='"Liberation Sans", sans-serif' font-size="4.4" fill="#ff0000" text-anchor="middle" font-weight="bold" opacity="1.0">T</text>
<text x="532.40" y="347.68" font-family='"Liberation Sans", sans-serif' font-size="4.4" fill="#ff0000" text-anchor="middle" font-weight="bold" opacity="1.0">T</text>
<text x="434.60" y="352.23" font-family='"Liberation Sans", sans-serif' font-size="4.4" fill="#ff0000" text-anchor="middle" font-weight="bold" opacity="0.35">T</text>
<text x="454.40" y="352.23" font-family='"Liberation Sans", sans-serif' font-size="4.4" fill="#ff0000" text-anchor="middle" font-weight="bold" opacity="1.0">T</text>
<text x="473.50" y="352.23" font-family='"Liberation Sans", sans-serif' font-size="4.4" fill="#22cc22" text-anchor="middle" font-weight="bold" opacity="1.0">A</text>
<text x="512.50" y="352.23" font-family='"Liberation Sans", sans-serif' font-size="4.4" fill="#ff0000" text-anchor="middle" font-weight="bold" opacity="1.0">T</text>
<text x="532.40" y="352.23" font-family='"Liberation Sans", sans-serif' font-size="4.4" fill="#ff0000" text-anchor="middle" font-weight="bold" opacity="1.0">T</text>
<rect x="444.00" y="353.38" width="20.00" height="3.60" fill="#fff" />
<line x1="444.00" y1="355.18" x2="464.00" y2="355.18" stroke="#111" stroke-width="0.7" />
<rect x="580.00" y="353.38" width="19.00" height="3.60" fill="#fff" />
<line x1="580.00" y1="355.18" x2="599.00" y2="355.18" stroke="#111" stroke-width="0.7" />
<text x="532.40" y="356.78" font-family='"Liberation Sans", sans-serif' font-size="4.4" fill="#ff0000" text-anchor="middle" font-weight="bold" opacity="0.5">T</text>
<text x="532.40" y="361.33" font-family='"Liberation Sans", sans-serif' font-size="4.4" fill="#ff0000" text-anchor="middle" font-weight="bold" opacity="0.6">T</text>
<text x="551.50" y="361.33" font-family='"Liberation Sans", sans-serif' font-size="4.4" fill="#ff0000" text-anchor="middle" font-weight="bold" opacity="1.0">T</text>
<text x="590.20" y="361.33" font-family='"Liberation Sans", sans-serif' font-size="4.4" fill="#ff0000" text-anchor="middle" font-weight="bold" opacity="1.0">T</text>
<rect x="502.00" y="362.48" width="21.00" height="3.60" fill="#fff" />
<line x1="502.00" y1="364.28" x2="523.00" y2="364.28" stroke="#111" stroke-width="0.7" />
<text x="532.40" y="365.88" font-family='"Liberation Sans", sans-serif' font-size="4.4" fill="#ff0000" text-anchor="middle" font-weight="bold" opacity="0.6">T</text>
<text x="512.50" y="370.43" font-family='"Liberation Sans", sans-serif' font-size="4.4" fill="#ff0000" text-anchor="middle" font-weight="bold" opacity="0.35">T</text>
<line x1="540.30" y1="366.93" x2="540.30" y2="370.72" stroke="#8a2be2" stroke-width="0.8" />
<line x1="539.40" y1="366.93" x2="541.20" y2="366.93" stroke="#8a2be2" stroke-width="0.6" />
<line x1="539.40" y1="370.72" x2="541.20" y2="370.72" stroke="#8a2be2" stroke-width="0.6" />
<line x1="542.60" y1="366.93" x2="542.60" y2="370.72" stroke="#8a2be2" stroke-width="0.8" />
<line x1="541.70" y1="366.93" x2="543.50" y2="366.93" stroke="#8a2be2" stroke-width="0.6" />
<line x1="541.70" y1="370.72" x2="543.50" y2="370.72" stroke="#8a2be2" stroke-width="0.6" />
<rect x="426.00" y="371.57" width="18.40" height="3.60" fill="#fff" />
<line x1="426.00" y1="373.38" x2="444.40" y2="373.38" stroke="#111" stroke-width="0.7" />
<line x1="522.90" y1="371.48" x2="522.90" y2="375.27" stroke="#8a2be2" stroke-width="0.8" />
<line x1="522.00" y1="371.48" x2="523.80" y2="371.48" stroke="#8a2be2" stroke-width="0.6" />
<line x1="522.00" y1="375.27" x2="523.80" y2="375.27" stroke="#8a2be2" stroke-width="0.6" />
<line x1="561.50" y1="371.48" x2="561.50" y2="375.27" stroke="#8a2be2" stroke-width="0.8" />
<line x1="560.60" y1="371.48" x2="562.40" y2="371.48" stroke="#8a2be2" stroke-width="0.6" />
<line x1="560.60" y1="375.27" x2="562.40" y2="375.27" stroke="#8a2be2" stroke-width="0.6" />
<line x1="444.60" y1="376.03" x2="444.60" y2="379.82" stroke="#8a2be2" stroke-width="0.8" />
<line x1="443.70" y1="376.03" x2="445.50" y2="376.03" stroke="#8a2be2" stroke-width="0.6" />
<line x1="443.70" y1="379.82" x2="445.50" y2="379.82" stroke="#8a2be2" stroke-width="0.6" />
<text x="532.40" y="379.53" font-family='"Liberation Sans", sans-serif' font-size="4.4" fill="#ff0000" text-anchor="middle" font-weight="bold" opacity="1.0">T</text>
<text x="434.60" y="384.08" font-family='"Liberation Sans", sans-serif' font-size="4.4" fill="#ff0000" text-anchor="middle" font-weight="bold" opacity="0.35">T</text>
<line x1="464.40" y1="380.58" x2="464.40" y2="384.38" stroke="#8a2be2" stroke-width="0.8" />
<line x1="463.50" y1="380.58" x2="465.30" y2="380.58" stroke="#8a2be2" stroke-width="0.6" />
<line x1="463.50" y1="384.38" x2="465.30" y2="384.38" stroke="#8a2be2" stroke-width="0.6" />
<text x="473.50" y="384.08" font-family='"Liberation Sans", sans-serif' font-size="4.4" fill="#ff0000" text-anchor="middle" font-weight="bold" opacity="0.6">T</text>
<text x="532.40" y="384.08" font-family='"Liberation Sans", sans-serif' font-size="4.4" fill="#ff0000" text-anchor="middle" font-weight="bold" opacity="1.0">T</text>
<line x1="483.50" y1="385.12" x2="483.50" y2="388.92" stroke="#8a2be2" stroke-width="0.8" />
<line x1="482.60" y1="385.12" x2="484.40" y2="385.12" stroke="#8a2be2" stroke-width="0.6" />
<line x1="482.60" y1="388.92" x2="484.40" y2="388.92" stroke="#8a2be2" stroke-width="0.6" />
<text x="512.30" y="388.62" font-family='"Liberation Sans", sans-serif' font-size="4.4" fill="#22cc22" text-anchor="middle" font-weight="bold" opacity="1.0">A</text>
<text x="532.40" y="388.62" font-family='"Liberation Sans", sans-serif' font-size="4.4" fill="#ff0000" text-anchor="middle" font-weight="bold" opacity="1.0">T</text>
<line x1="580.80" y1="385.12" x2="580.80" y2="388.92" stroke="#8a2be2" stroke-width="0.8" />
<line x1="579.90" y1="385.12" x2="581.70" y2="385.12" stroke="#8a2be2" stroke-width="0.6" />
<line x1="579.90" y1="388.92" x2="581.70" y2="388.92" stroke="#8a2be2" stroke-width="0.6" />
<rect x="425.40" y="283.00" width="173.60" height="121.40" fill="none" stroke="#222" stroke-width="1.3"/>
<rect x="425.40" y="413.80" width="173.60" height="70.40" fill="#f9f9f9" />
<rect x="425.40" y="414.50" width="173.60" height="4.00" fill="#fdfdfd" />
<line x1="425.40" y1="418.60" x2="581.00" y2="418.60" stroke="#cfcfcf" stroke-width="1" />
<line x1="581.00" y1="418.20" x2="599.00" y2="418.20" stroke="#cfcfcf" stroke-width="1.2" />
<rect x="425.40" y="420.60" width="173.60" height="16.00" fill="#c6c6c6" />
<line x1="561.00" y1="424.60" x2="599.00" y2="424.60" stroke="#fff" stroke-width="1" />
<rect x="522.60" y="420.60" width="19.40" height="16.00" fill="#ff0000" />
<text x="532.00" y="446.30" font-family='"Liberation Sans", sans-serif' font-size="9" fill="#f04a2a" text-anchor="middle" font-weight="normal" >T</text>
<path d="M532.2,447.8 L529.6,452.6 L531.4,452.6 L531.4,458.6 L533,458.6 L533,452.6 L534.8,452.6 Z" fill="#000"/>
<line x1="425.40" y1="459.40" x2="599.00" y2="459.40" stroke="#dcdcdc" stroke-width="0.8" />
<rect x="425.40" y="460.00" width="173.60" height="24.00" fill="#fff" />
<line x1="425.40" y1="463.40" x2="599.00" y2="463.40" stroke="#888" stroke-width="0.8" />
<line x1="425.40" y1="465.10" x2="599.00" y2="465.10" stroke="#bbb" stroke-width="0.6" />
<text x="434.40" y="469.60" font-family='"Liberation Sans", sans-serif' font-size="4.6" fill="#e08a2a" text-anchor="middle" font-weight="bold" >G</text>
<text x="453.90" y="469.60" font-family='"Liberation Sans", sans-serif' font-size="4.6" fill="#2244ee" text-anchor="middle" font-weight="bold" >C</text>
<text x="473.40" y="469.60" font-family='"Liberation Sans", sans-serif' font-size="4.6" fill="#2244ee" text-anchor="middle" font-weight="bold" >C</text>
<text x="492.90" y="469.60" font-family='"Liberation Sans", sans-serif' font-size="4.6" fill="#22bb22" text-anchor="middle" font-weight="bold" >A</text>
<text x="512.40" y="469.60" font-family='"Liberation Sans", sans-serif' font-size="4.6" fill="#2244ee" text-anchor="middle" font-weight="bold" >C</text>
<text x="531.90" y="469.60" font-family='"Liberation Sans", sans-serif' font-size="4.6" fill="#2244ee" text-anchor="middle" font-weight="bold" >C</text>
<text x="551.40" y="469.60" font-family='"Liberation Sans", sans-serif' font-size="4.6" fill="#22bb22" text-anchor="middle" font-weight="bold" >A</text>
<text x="570.90" y="469.60" font-family='"Liberation Sans", sans-serif' font-size="4.6" fill="#e08a2a" text-anchor="middle" font-weight="bold" >G</text>
<text x="590.40" y="469.60" font-family='"Liberation Sans", sans-serif' font-size="4.6" fill="#2244ee" text-anchor="middle" font-weight="bold" >C</text>
<rect x="425.40" y="471.60" width="173.60" height="4.00" fill="#5c5ca8" />
<rect x="483.60" y="471.60" width="58.40" height="4.00" fill="#000080" />
<text x="454.00" y="475.20" font-family='"Liberation Sans", sans-serif' font-size="4" fill="#ddd" text-anchor="middle" font-weight="normal" >G</text>
<text x="512.40" y="475.20" font-family='"Liberation Sans", sans-serif' font-size="4" fill="#ddd" text-anchor="middle" font-weight="normal" >G</text>
<text x="571.00" y="475.20" font-family='"Liberation Sans", sans-serif' font-size="4" fill="#ddd" text-anchor="middle" font-weight="normal" >A</text>
<text x="521.60" y="482.00" font-family='"Liberation Sans", sans-serif' font-size="3.4" fill="#444" text-anchor="middle" font-weight="bold" >KRAS</text>
<rect x="425.40" y="413.80" width="173.60" height="70.40" fill="none" stroke="#222" stroke-width="1.3"/>
<rect x="689.80" y="277.60" width="138.80" height="95.00" fill="#fff" />
<line x1="689.80" y1="281.30" x2="828.60" y2="281.30" stroke="#999" stroke-width="0.8" />
<line x1="689.80" y1="284.60" x2="828.60" y2="284.60" stroke="#aaa" stroke-width="0.6" />
<rect x="689.80" y="285.80" width="138.80" height="2.30" fill="#fff" stroke="#999" stroke-width="0.4"/>
<rect x="689.80" y="285.80" width="9.90" height="2.30" fill="#000" />
<rect x="712.20" y="285.80" width="9.50" height="2.30" fill="#000" />
<rect x="728.50" y="285.80" width="9.00" height="2.30" fill="#000" />
<rect x="812.10" y="285.80" width="8.40" height="2.30" fill="#000" />
<rect x="720.60" y="285.60" width="1.40" height="2.70" fill="#ff0000" />
<path d="M741.2,285.8 L745.6,287 L741.2,288.1 Z M750,285.8 L745.6,287 L750,288.1 Z" fill="#d40000"/>
<line x1="800.50" y1="285.00" x2="800.50" y2="288.40" stroke="#999" stroke-width="0.5" />
<text x="705.00" y="291.50" font-family='"Liberation Sans", sans-serif' font-size="3.3" fill="#111" text-anchor="middle" font-weight="bold" >p13.3</text>
<text x="717.00" y="291.50" font-family='"Liberation Sans", sans-serif' font-size="3.3" fill="#111" text-anchor="middle" font-weight="bold" >p13.2</text>
<text x="733.00" y="291.50" font-family='"Liberation Sans", sans-serif' font-size="3.3" fill="#111" text-anchor="middle" font-weight="bold" >p12</text>
<text x="746.00" y="291.50" font-family='"Liberation Sans", sans-serif' font-size="3.3" fill="#111" text-anchor="middle" font-weight="bold" >q11</text>
<text x="775.00" y="291.50" font-family='"Liberation Sans", sans-serif' font-size="3.3" fill="#111" text-anchor="middle" font-weight="bold" >q13</text>
<text x="805.60" y="291.50" font-family='"Liberation Sans", sans-serif' font-size="3.3" fill="#111" text-anchor="middle" font-weight="bold" >q21.1</text>
<text x="825.00" y="291.50" font-family='"Liberation Sans", sans-serif' font-size="3.3" fill="#111" text-anchor="middle" font-weight="bold" >q21</text>
<rect x="689.80" y="292.50" width="138.80" height="20.00" fill="#fafafa" />
<line x1="689.80" y1="295.50" x2="828.60" y2="295.50" stroke="#e6e8ee" stroke-width="0.6" />
<line x1="689.80" y1="302.20" x2="739.90" y2="302.20" stroke="#999" stroke-width="0.8" />
<line x1="754.70" y1="302.20" x2="828.60" y2="302.20" stroke="#999" stroke-width="0.8" />
<text x="747.50" y="303.50" font-family='"Liberation Sans", sans-serif' font-size="3.8" fill="#222" text-anchor="middle" font-weight="bold" >40 bp</text>
<text x="774.30" y="308.60" font-family='"Liberation Sans", sans-serif' font-size="3.1" fill="#333" text-anchor="middle" font-weight="bold" >115,258,748 bp</text>
<line x1="774.40" y1="309.60" x2="774.40" y2="312.00" stroke="#444" stroke-width="0.6" />
<line x1="689.80" y1="312.40" x2="828.60" y2="312.40" stroke="#aaa" stroke-width="0.8" />
<line x1="689.80" y1="315.00" x2="828.60" y2="315.00" stroke="#777" stroke-width="0.9" />
<rect x="689.80" y="315.50" width="138.80" height="44.70" fill="#c6c6c6" />
<line x1="689.80" y1="319.23" x2="828.60" y2="319.23" stroke="#e2e2e2" stroke-width="0.7" />
<line x1="689.80" y1="322.95" x2="828.60" y2="322.95" stroke="#e2e2e2" stroke-width="0.7" />
<line x1="689.80" y1="326.68" x2="828.60" y2="326.68" stroke="#e2e2e2" stroke-width="0.7" />
<line x1="689.80" y1="330.40" x2="828.60" y2="330.40" stroke="#e2e2e2" stroke-width="0.7" />
<line x1="689.80" y1="334.12" x2="828.60" y2="334.12" stroke="#e2e2e2" stroke-width="0.7" />
<line x1="689.80" y1="337.85" x2="828.60" y2="337.85" stroke="#e2e2e2" stroke-width="0.7" />
<line x1="689.80" y1="341.57" x2="828.60" y2="341.57" stroke="#e2e2e2" stroke-width="0.7" />
<line x1="689.80" y1="345.30" x2="828.60" y2="345.30" stroke="#e2e2e2" stroke-width="0.7" />
<line x1="689.80" y1="349.02" x2="828.60" y2="349.02" stroke="#e2e2e2" stroke-width="0.7" />
<line x1="689.80" y1="352.75" x2="828.60" y2="352.75" stroke="#e2e2e2" stroke-width="0.7" />
<line x1="689.80" y1="356.48" x2="828.60" y2="356.48" stroke="#e2e2e2" stroke-width="0.7" />
<rect x="689.80" y="360.20" width="138.80" height="12.40" fill="#f9f9f9" />
<rect x="755.90" y="320.09" width="2.00" height="2.00" fill="#22dd22" />
<rect x="772.80" y="320.09" width="2.00" height="2.00" fill="#22dd22" />
<rect x="756.00" y="323.51" width="1.80" height="2.60" fill="#ff0000" opacity="0.6"/>
<rect x="756.00" y="327.24" width="1.80" height="2.60" fill="#ff0000" opacity="0.6"/>
<rect x="756.00" y="334.69" width="1.80" height="2.60" fill="#ff0000" opacity="0.9"/>
<rect x="756.00" y="342.14" width="1.80" height="2.60" fill="#ff0000" opacity="0.4"/>
<rect x="756.00" y="345.86" width="1.80" height="2.60" fill="#ff0000" opacity="0.9"/>
<rect x="756.00" y="349.59" width="1.80" height="2.60" fill="#ff0000" opacity="0.6"/>
<rect x="756.00" y="353.31" width="1.80" height="2.60" fill="#ff0000" opacity="0.4"/>
<rect x="756.00" y="357.04" width="1.80" height="2.60" fill="#ff0000" opacity="0.4"/>
<rect x="696.40" y="330.66" width="17.70" height="3.20" fill="#fff" />
<line x1="696.40" y1="332.26" x2="714.10" y2="332.26" stroke="#222" stroke-width="0.7" />
<rect x="747.90" y="330.66" width="17.60" height="3.20" fill="#fff" />
<line x1="747.90" y1="332.26" x2="765.50" y2="332.26" stroke="#222" stroke-width="0.7" />
<rect x="694.60" y="356.44" width="3.60" height="3.80" fill="#9a3df0" />
<rect x="695.30" y="357.34" width="0.80" height="2.00" fill="#d8c0ff" />
<rect x="696.80" y="357.34" width="0.80" height="2.00" fill="#d8c0ff" />
<rect x="689.80" y="277.60" width="138.80" height="95.00" fill="none" stroke="#222" stroke-width="1.3"/>
<rect x="689.80" y="377.60" width="138.80" height="133.70" fill="#f9f9f9" />
<rect x="689.80" y="379.70" width="138.80" height="65.50" fill="#c6c6c6" />
<path d="M689.8,396.2 L731,396.2 L731,397.5 L765.6,397.5 L765.6,398.4 L782,398.4 L782,400 L817,400 L817,401.3 L828.6,401.3 L828.6,410.8 L782,410.8 L782,408.1 L765.6,408.1 L765.6,405.2 L689.8,405.2 Z" fill="#f6f6f6"/>
<rect x="748.10" y="380.90" width="17.40" height="1.00" fill="#ff0000" />
<rect x="748.10" y="383.60" width="17.40" height="6.30" fill="#ff0000" />
<rect x="748.10" y="395.80" width="17.40" height="1.00" fill="#ff0000" />
<rect x="748.10" y="409.10" width="17.40" height="2.90" fill="#ff0000" />
<rect x="748.10" y="413.20" width="17.40" height="1.00" fill="#ff0000" />
<rect x="748.10" y="417.10" width="17.40" height="1.00" fill="#ff0000" />
<rect x="748.10" y="421.30" width="17.40" height="2.60" fill="#ff0000" />
<rect x="748.10" y="425.60" width="17.40" height="1.00" fill="#ff0000" />
<rect x="748.10" y="430.70" width="17.40" height="2.20" fill="#ff0000" />
<rect x="748.10" y="434.80" width="17.40" height="1.00" fill="#ff0000" />
<rect x="748.10" y="439.90" width="17.40" height="1.00" fill="#ff0000" />
<rect x="748.10" y="443.80" width="17.40" height="1.00" fill="#ff0000" />
<text x="757.10" y="456.70" font-family='"Liberation Sans", sans-serif' font-size="9" fill="#f04a2a" text-anchor="middle" font-weight="normal" >T</text>
<path d="M757.5,463.4 L754.8,469.6 L756.7,469.6 L756.7,481.4 L758.3,481.4 L758.3,469.6 L760.3,469.6 Z" fill="#000"/>
<rect x="689.80" y="493.50" width="138.80" height="17.80" fill="#fff" />
<line x1="689.80" y1="494.60" x2="828.60" y2="494.60" stroke="#888" stroke-width="0.8" />
<text x="705.20" y="499.10" font-family='"Liberation Sans", sans-serif' font-size="4.4" fill="#2244ee" text-anchor="middle" font-weight="bold" >C</text>
<text x="722.30" y="499.10" font-family='"Liberation Sans", sans-serif' font-size="4.4" fill="#ee2222" text-anchor="middle" font-weight="bold" >T</text>
<text x="739.40" y="499.10" font-family='"Liberation Sans", sans-serif' font-size="4.4" fill="#ee2222" text-anchor="middle" font-weight="bold" >T</text>
<text x="756.50" y="499.10" font-family='"Liberation Sans", sans-serif' font-size="4.4" fill="#e08a2a" text-anchor="middle" font-weight="bold" >G</text>
<text x="773.60" y="499.10" font-family='"Liberation Sans", sans-serif' font-size="4.4" fill="#ee2222" text-anchor="middle" font-weight="bold" >T</text>
<text x="790.70" y="499.10" font-family='"Liberation Sans", sans-serif' font-size="4.4" fill="#2244ee" text-anchor="middle" font-weight="bold" >C</text>
<text x="807.80" y="499.10" font-family='"Liberation Sans", sans-serif' font-size="4.4" fill="#2244ee" text-anchor="middle" font-weight="bold" >C</text>
<text x="824.90" y="499.10" font-family='"Liberation Sans", sans-serif' font-size="4.4" fill="#22bb22" text-anchor="middle" font-weight="bold" >A</text>
<rect x="689.80" y="500.60" width="138.80" height="3.20" fill="#5c5ca8" />
<rect x="689.80" y="500.60" width="24.10" height="3.20" fill="#000080" />
<rect x="765.50" y="500.60" width="51.80" height="3.20" fill="#000080" />
<text x="739.40" y="503.40" font-family='"Liberation Sans", sans-serif' font-size="3.6" fill="#ddd" text-anchor="middle" font-weight="normal" >Q</text>
<text x="790.90" y="503.40" font-family='"Liberation Sans", sans-serif' font-size="3.6" fill="#ddd" text-anchor="middle" font-weight="normal" >K</text>
<text x="747.40" y="509.00" font-family='"Liberation Sans", sans-serif' font-size="3.2" fill="#444" text-anchor="middle" font-weight="bold" >NRAS</text>
<rect x="689.80" y="377.60" width="138.80" height="133.70" fill="none" stroke="#222" stroke-width="1.3"/>
<ellipse cx="775.8" cy="470.4" rx="12.2" ry="11.2" fill="#fff" stroke="#666" stroke-width="0.6"/>
<path d="M768,479 L765,485.5 L772.5,481" fill="#fff" stroke="#666" stroke-width="0.6" stroke-linejoin="round"/>
<path d="M768,479 L772.5,481" stroke="#fff" stroke-width="1.5"/>
<ellipse cx="787.6" cy="478.8" rx="11.1" ry="9.8" fill="#fff" stroke="#666" stroke-width="0.6"/>
<path d="M793,486.5 L796.5,490 L795.5,485.5" fill="#fff" stroke="#666" stroke-width="0.6" stroke-linejoin="round"/>
<path d="M769.5,467.79999999999995 A1.4,1.4 0 0 1 772.3,467.79999999999995" fill="none" stroke="#444" stroke-width="0.7"/>
<path d="M779.8000000000001,467.79999999999995 A1.4,1.4 0 0 1 782.6,467.79999999999995" fill="none" stroke="#444" stroke-width="0.7"/>
<path d="M782.4,476.09999999999997 A1.4,1.4 0 0 1 785.1999999999999,476.09999999999997" fill="none" stroke="#444" stroke-width="0.7"/>
<path d="M790.2,476.09999999999997 A1.4,1.4 0 0 1 793.0,476.09999999999997" fill="none" stroke="#444" stroke-width="0.7"/>
<path d="M809.4,466.9 L825.0,466.9 M817.2,466.9 L814.8,471.2 M811.3,471.2 L811.3,485.1 M811.3,471.2 L823.1,471.2 L823.1,485.1 M811.3,478.2 L823.1,478.2 M811.3,485.1 L823.1,485.1 " fill="none" stroke="#c8c8c8" stroke-width="3.0" stroke-linecap="square"/>
<path d="M808.9,467.7 L824.5,467.7 M816.7,467.7 L814.2,472.0 M810.8,472.0 L810.8,485.9 M810.8,472.0 L822.6,472.0 L822.6,485.9 M810.8,479.0 L822.6,479.0 M810.8,485.9 L822.6,485.9 " fill="none" stroke="#555" stroke-width="2.3" stroke-linecap="square"/>
<path d="M809.4,466.9 L825.0,466.9 M817.2,466.9 L814.8,471.2 M811.3,471.2 L811.3,485.1 M811.3,471.2 L823.1,471.2 L823.1,485.1 M811.3,478.2 L823.1,478.2 M811.3,485.1 L823.1,485.1 " fill="none" stroke="#fff" stroke-width="2.0" stroke-linecap="square"/>
<path d="M837.5,468.0 L849.2,468.0 M841.9,468.0 L841.4,474.4 L837.5,480.3 M841.4,473.4 L847.3,473.4 L846.8,479.8 L844.8,478.7 M832.6,466.9 L834.5,469.1 M831.6,473.4 L834.5,473.4 L834.5,480.9 M832.6,483.0 L836.5,484.6 L849.2,485.1 " fill="none" stroke="#c8c8c8" stroke-width="3.0" stroke-linecap="square"/>
<path d="M837.0,468.8 L848.7,468.8 M841.4,468.8 L840.9,475.2 L837.0,481.1 M840.9,474.2 L846.8,474.2 L846.3,480.6 L844.3,479.5 M832.1,467.7 L834.0,469.9 M831.1,474.2 L834.0,474.2 L834.0,481.7 M832.1,483.8 L836.0,485.4 L848.7,485.9 " fill="none" stroke="#555" stroke-width="2.3" stroke-linecap="square"/>
<path d="M837.5,468.0 L849.2,468.0 M841.9,468.0 L841.4,474.4 L837.5,480.3 M841.4,473.4 L847.3,473.4 L846.8,479.8 L844.8,478.7 M832.6,466.9 L834.5,469.1 M831.6,473.4 L834.5,473.4 L834.5,480.9 M832.6,483.0 L836.5,484.6 L849.2,485.1 " fill="none" stroke="#fff" stroke-width="2.0" stroke-linecap="square"/>
<path d="M863.6,464.8 L863.6,466.9 M855.8,470.2 L855.8,468.0 L871.4,468.0 L871.4,470.2 M861.6,470.2 L857.7,475.5 M860.7,471.8 L868.5,471.8 L859.7,478.2 M862.1,474.4 L870.5,478.2 M858.7,479.2 L858.7,485.1 L868.5,485.1 L868.5,479.2 L858.7,479.2 " fill="none" stroke="#c8c8c8" stroke-width="3.0" stroke-linecap="square"/>
<path d="M863.1,465.6 L863.1,467.7 M855.3,471.0 L855.3,468.8 L870.9,468.8 L870.9,471.0 M861.1,471.0 L857.2,476.3 M860.2,472.6 L868.0,472.6 L859.2,479.0 M861.6,475.2 L870.0,479.0 M858.2,480.0 L858.2,485.9 L868.0,485.9 L868.0,480.0 L858.2,480.0 " fill="none" stroke="#555" stroke-width="2.3" stroke-linecap="square"/>
<path d="M863.6,464.8 L863.6,466.9 M855.8,470.2 L855.8,468.0 L871.4,468.0 L871.4,470.2 M861.6,470.2 L857.7,475.5 M860.7,471.8 L868.5,471.8 L859.7,478.2 M862.1,474.4 L870.5,478.2 M858.7,479.2 L858.7,485.1 L868.5,485.1 L868.5,479.2 L858.7,479.2 " fill="none" stroke="#fff" stroke-width="2.0" stroke-linecap="square"/>
<path d="M894.6,466.9 L879.0,466.9 L879.0,485.1 L894.6,485.1 M883.9,469.1 L881.9,473.4 M882.9,472.3 L891.7,472.3 M880.9,476.6 L892.7,476.6 M886.8,472.3 L886.8,476.6 L881.9,483.0 M886.8,477.6 L892.7,483.0 " fill="none" stroke="#c8c8c8" stroke-width="3.0" stroke-linecap="square"/>
<path d="M894.1,467.7 L878.5,467.7 L878.5,485.9 L894.1,485.9 M883.4,469.9 L881.4,474.2 M882.4,473.1 L891.2,473.1 M880.4,477.4 L892.2,477.4 M886.3,473.1 L886.3,477.4 L881.4,483.8 M886.3,478.4 L892.2,483.8 " fill="none" stroke="#555" stroke-width="2.3" stroke-linecap="square"/>
<path d="M894.6,466.9 L879.0,466.9 L879.0,485.1 L894.6,485.1 M883.9,469.1 L881.9,473.4 M882.9,472.3 L891.7,472.3 M880.9,476.6 L892.7,476.6 M886.8,472.3 L886.8,476.6 L881.9,483.0 M886.8,477.6 L892.7,483.0 " fill="none" stroke="#fff" stroke-width="2.0" stroke-linecap="square"/>
<path d="M905.1,465.9 L906.1,468.0 M910.0,464.8 L910.0,468.0 M914.9,465.9 L913.9,468.0 M902.2,471.2 L902.2,469.1 L917.8,469.1 L917.8,471.2 M906.1,473.4 L913.9,473.4 L910.0,476.6 M910.0,476.6 L910.0,485.1 L908.0,484.1 M902.2,479.2 L917.8,479.2 " fill="none" stroke="#c8c8c8" stroke-width="3.0" stroke-linecap="square"/>
<path d="M904.6,466.7 L905.6,468.8 M909.5,465.6 L909.5,468.8 M914.4,466.7 L913.4,468.8 M901.7,472.0 L901.7,469.9 L917.3,469.9 L917.3,472.0 M905.6,474.2 L913.4,474.2 L909.5,477.4 M909.5,477.4 L909.5,485.9 L907.5,484.9 M901.7,480.0 L917.3,480.0 " fill="none" stroke="#555" stroke-width="2.3" stroke-linecap="square"/>
<path d="M905.1,465.9 L906.1,468.0 M910.0,464.8 L910.0,468.0 M914.9,465.9 L913.9,468.0 M902.2,471.2 L902.2,469.1 L917.8,469.1 L917.8,471.2 M906.1,473.4 L913.9,473.4 L910.0,476.6 M910.0,476.6 L910.0,485.1 L908.0,484.1 M902.2,479.2 L917.8,479.2 " fill="none" stroke="#fff" stroke-width="2.0" stroke-linecap="square"/>
<text x="840.80" y="506.10" font-family='"Liberation Serif", serif' font-size="30.3" fill="#000" text-anchor="start" font-weight="bold" textLength="107.6" lengthAdjust="spacingAndGlyphs">Figure 1</text>
</svg>
</body></html>
